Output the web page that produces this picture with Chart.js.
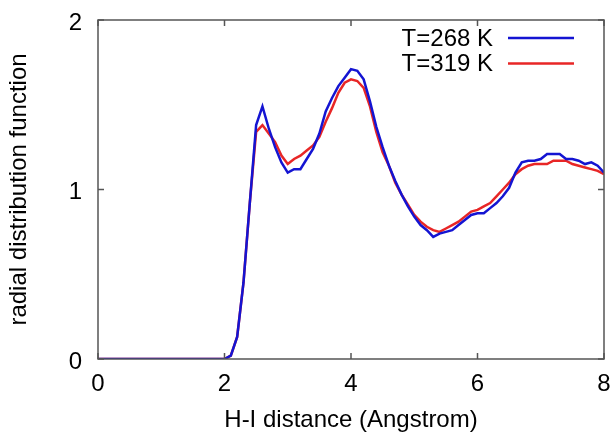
<!DOCTYPE html>
<html>
<head>
<meta charset="utf-8">
<script src="https://cdn.jsdelivr.net/npm/chart.js@4.4.1/dist/chart.umd.min.js"></script>
<style>
  html, body { margin: 0; padding: 0; background: #fff; }
  #wrap { width: 610px; height: 437px; }
</style>
</head>
<body>
<div id="wrap"><canvas id="rdf"></canvas></div>
<script>
// r values (Angstrom), step 0.1
var distance = [];
for (var i = 0; i <= 80; i++) distance.push(+(i / 10).toFixed(1));

var g268 = [
  0, 0, 0, 0, 0, 0, 0, 0, 0, 0,
  0, 0, 0, 0, 0, 0, 0, 0, 0, 0,
  0, 0.02, 0.13, 0.45, 0.92, 1.38, 1.49, 1.36, 1.25, 1.16,
  1.10, 1.12, 1.12, 1.18, 1.24, 1.33, 1.46, 1.54, 1.61, 1.66,
  1.71, 1.70, 1.65, 1.52, 1.37, 1.25, 1.14, 1.05, 0.97, 0.90,
  0.84, 0.79, 0.76, 0.72, 0.74, 0.75, 0.76, 0.79, 0.82, 0.85,
  0.86, 0.86, 0.89, 0.92, 0.96, 1.01, 1.10, 1.16, 1.17, 1.17,
  1.18, 1.21, 1.21, 1.21, 1.18, 1.18, 1.17, 1.15, 1.16, 1.14,
  1.10
];
var g319 = [
  0, 0, 0, 0, 0, 0, 0, 0, 0, 0,
  0, 0, 0, 0, 0, 0, 0, 0, 0, 0,
  0, 0.02, 0.13, 0.45, 0.92, 1.34, 1.38, 1.33, 1.28, 1.20,
  1.15, 1.18, 1.20, 1.23, 1.26, 1.31, 1.40, 1.48, 1.57, 1.63,
  1.65, 1.64, 1.60, 1.49, 1.34, 1.22, 1.14, 1.04, 0.97, 0.91,
  0.85, 0.81, 0.78, 0.76, 0.75, 0.77, 0.79, 0.81, 0.84, 0.87,
  0.88, 0.90, 0.92, 0.96, 1.00, 1.04, 1.09, 1.12, 1.14, 1.15,
  1.15, 1.15, 1.17, 1.17, 1.17, 1.15, 1.14, 1.13, 1.12, 1.11,
  1.09
];
var xTicks = [0, 2, 4, 6, 8];
var yTicks = [0, 1, 2];

function pts(ys) {
  return ys.map(function (y, k) { return { x: distance[k], y: y }; });
}

var FONT = "'Liberation Sans', Arial, sans-serif";

// gnuplot style frame, inward ticks and legend at top right
var framePlugin = {
  id: 'frame',
  afterDraw: function (chart) {
    var c = chart.ctx, a = chart.chartArea;
    var sx = chart.scales.x, sy = chart.scales.y;
    c.save();
    c.strokeStyle = '#555';
    c.lineWidth = 1.5;
    c.strokeRect(a.left, a.top, a.right - a.left, a.bottom - a.top);
    c.beginPath();
    xTicks.forEach(function (t) {
      var px = sx.getPixelForValue(t);
      c.moveTo(px, a.bottom); c.lineTo(px, a.bottom - 6);
      c.moveTo(px, a.top); c.lineTo(px, a.top + 6);
    });
    yTicks.forEach(function (t) {
      var py = sy.getPixelForValue(t);
      c.moveTo(a.left, py); c.lineTo(a.left + 6, py);
      c.moveTo(a.right, py); c.lineTo(a.right - 6, py);
    });
    c.stroke();

    c.font = '24px ' + FONT;
    c.textAlign = 'right';
    c.textBaseline = 'middle';
    chart.data.datasets.forEach(function (ds, k) {
      var y = 38 + k * 25.5;
      c.fillStyle = '#000';
      c.fillText(ds.label, 493, y + 1);
      c.strokeStyle = ds.borderColor;
      c.lineWidth = 2.5;
      c.beginPath();
      c.moveTo(508, y); c.lineTo(574, y);
      c.stroke();
    });
    c.restore();
  }
};

new Chart(document.getElementById('rdf'), {
  type: 'line',
  data: {
    datasets: [
      { label: 'T=268 K', data: pts(g268), borderColor: '#1414d2', borderWidth: 2.5, pointRadius: 0, tension: 0 },
      { label: 'T=319 K', data: pts(g319), borderColor: '#e82626', borderWidth: 2.5, pointRadius: 0, tension: 0 }
    ]
  },
  options: {
    responsive: true,
    maintainAspectRatio: false,
    animation: false,
    layout: { padding: { top: 20, right: 6, left: 5, bottom: 0 } },
    plugins: { legend: { display: false }, tooltip: { enabled: false } },
    scales: {
      x: {
        type: 'linear', min: 0, max: 8,
        afterFit: function (s) { s.height = 78; s.paddingLeft = 0; s.paddingRight = 0; },
        afterBuildTicks: function (s) { s.ticks = xTicks.map(function (v) { return { value: v }; }); },
        grid: { display: false, drawTicks: false },
        border: { display: false },
        ticks: { color: '#000', font: { family: FONT, size: 24 }, padding: 11 },
        title: { display: true, text: 'H-I distance (Angstrom)', color: '#000', font: { family: FONT, size: 24 }, padding: { top: 4, bottom: 2 } }
      },
      y: {
        min: 0, max: 2,
        afterFit: function (s) { s.width = 93; s.paddingTop = 0; s.paddingBottom = 0; },
        afterBuildTicks: function (s) { s.ticks = yTicks.map(function (v) { return { value: v }; }); },
        grid: { display: false, drawTicks: false },
        border: { display: false },
        ticks: { color: '#000', font: { family: FONT, size: 24 }, padding: 16, labelOffset: 3 },
        title: { display: true, text: 'radial distribution function', color: '#000', font: { family: FONT, size: 24 }, padding: { top: 0, bottom: 6 } }
      }
    }
  },
  plugins: [framePlugin]
});
</script>
</body>
</html>
